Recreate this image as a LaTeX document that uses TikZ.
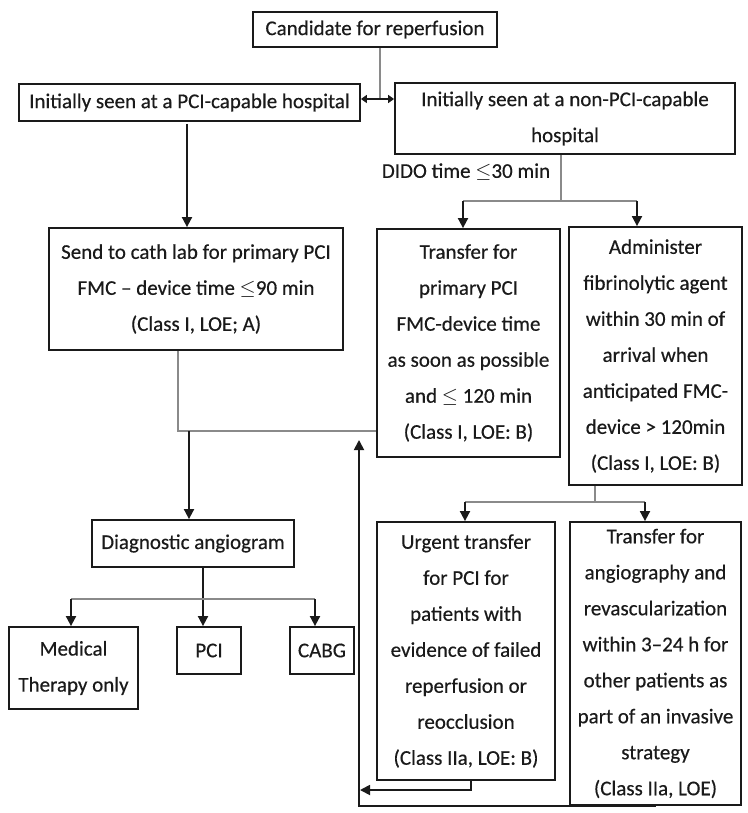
\documentclass[tikz,border=0pt]{standalone}
\usepackage{fontspec}
\setmainfont{Carlito}[FakeBold=0.4]
\usetikzlibrary{arrows.meta}
\definecolor{ink}{HTML}{1A1A1A}
\definecolor{wirec}{HTML}{8A8A8A}
\begin{document}
\begin{tikzpicture}[x=1pt,y=-1pt,
  box/.style={draw=ink, line width=1.8pt, inner sep=0pt, align=center, text=ink,
              font=\fontsize{21}{36}\selectfont},
  lbl/.style={inner sep=0pt, text=ink, font=\fontsize{21}{36}\selectfont},
  wire/.style={draw=wirec, line width=1.2pt},
  arr/.style={draw=ink, line width=1.8pt, -{Triangle[length=10pt,width=10pt]}},
  dbl/.style={draw=ink, line width=1.5pt,
              {Triangle[length=6pt,width=8pt]}-{Triangle[length=6pt,width=8pt]}}]
\useasboundingbox[fill=white] (0,0) rectangle (747,813);

% boxes
\node[box, minimum width=244pt, minimum height=35pt] (cand) at (375,29.5) {Candidate for reperfusion};
\node[box, minimum width=341pt, minimum height=37pt] (pcicap) at (189.5,102.5) {Initially seen at a PCI-capable hospital};
\node[box, minimum width=340pt, minimum height=71pt] (nonpci) at (565,118.5) {Initially seen at a non-PCI-capable\\hospital};
\node[box, minimum width=294pt, minimum height=122pt] (send) at (196,289) {Send to cath lab for primary PCI\\FMC -- device time $\leq$90 min\\(Class I, LOE; A)};
\node[box, minimum width=183pt, minimum height=228pt] (transfer) at (468.5,343) {Transfer for\\primary PCI\\FMC-device time\\as soon as possible\\and $\leq$ 120 min\\(Class I, LOE: B)};
\node[box, minimum width=173pt, minimum height=258pt] (admin) at (655.5,356) {Administer\\fibrinolytic agent\\within 30 min of\\arrival when\\anticipated FMC-\\device > 120min\\(Class I, LOE: B)};
\node[box, minimum width=202pt, minimum height=47pt] (diag) at (193,543.5) {Diagnostic angiogram};
\node[box, minimum width=129pt, minimum height=82pt] (med) at (73.5,668) {Medical\\Therapy only};
\node[box, minimum width=64pt, minimum height=47pt] (pci) at (209,650.5) {PCI};
\node[box, minimum width=64pt, minimum height=47pt] (cabg) at (322,650.5) {CABG};
\node[box, minimum width=178pt, minimum height=258pt] (urgent) at (466,651) {Urgent transfer\\for PCI for\\patients with\\evidence of failed\\reperfusion or\\reocclusion\\(Class IIa, LOE: B)};
\node[box, minimum width=171pt, minimum height=283pt] (angio) at (655.5,663.5) {Transfer for\\angiography and\\revascularization\\within 3--24 h for\\other patients as\\part of an invasive\\strategy\\(Class IIa, LOE)};

\node[lbl] (dido) at (466,172) {DIDO time $\leq$30 min};

% top: candidate and the two entry points
\coordinate (dj) at (380,99);
\draw[wire] (cand.south -| dj) -- (dj);
\draw[dbl] (pcicap.east |- dj) -- (nonpci.west |- dj);

% PCI-capable branch
\coordinate (a1) at (187,124);
\draw[arr] (a1) -- (a1 |- send.north);

% non-PCI-capable branch
\coordinate (d0) at (561,201);
\coordinate (dl) at (463,201);
\coordinate (dr) at (637,201);
\draw[wire] (nonpci.south -| d0) -- (d0);
\draw[wire] (dl) -- (dr);
\draw[arr] (dl) -- (dl |- transfer.north);
\draw[arr] (dr) -- (dr |- admin.north);

% merge into diagnostic angiogram
\coordinate (s0) at (178,431);
\coordinate (g0) at (189,431);
\draw[wire] (send.south -| s0) -- (s0) -- (s0 -| transfer.west);
\draw[arr] (g0) -- (g0 |- diag.north);

% angiogram outcomes
\coordinate (f0) at (203,599);
\coordinate (fl) at (71,599);
\coordinate (fr) at (315,599);
\draw[arr] (diag.south -| f0) -- (f0 |- pci.north);
\draw[wire] (fl) -- (fr);
\draw[arr] (fl) -- (fl |- med.north);
\draw[arr] (fr) -- (fr |- cabg.north);

% after fibrinolysis
\coordinate (h0) at (595,502);
\coordinate (hl) at (465,502);
\coordinate (hr) at (645,502);
\draw[wire] (admin.south -| h0) -- (h0);
\draw[wire] (hl) -- (hr);
\draw[arr] (hl) -- (hl |- urgent.north);
\draw[arr] (hr) -- (hr |- angio.north);

% return loop
\coordinate (up) at (359,440);
\coordinate (u0) at (471,790);
\draw[arr] (angio.south) -| (up);
\draw[arr] (urgent.south -| u0) |- ([xshift=1pt]up |- u0);
\end{tikzpicture}
\end{document}
